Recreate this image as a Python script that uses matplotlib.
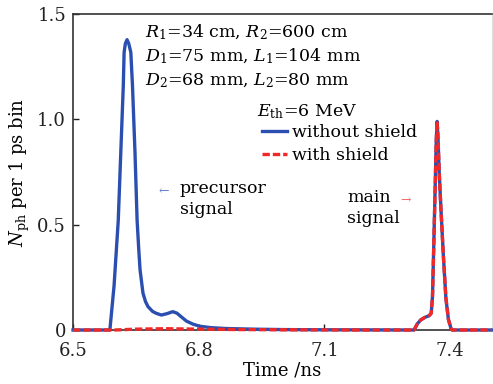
import matplotlib
matplotlib.use("Agg")
import matplotlib.pyplot as plt
import numpy as np

# --- data ---
t_without = [6.50, 6.588, 6.598, 6.608, 6.614, 6.620, 6.622, 6.625, 6.629, 6.633, 6.638,
             6.642, 6.648, 6.653, 6.657, 6.660, 6.667, 6.673, 6.679, 6.690, 6.699,
             6.711, 6.725, 6.738, 6.748, 6.760,
             6.771, 6.786, 6.802, 6.830, 6.866, 6.930, 7.000, 7.100, 7.200, 7.314,
             7.322, 7.330, 7.340, 7.350, 7.355, 7.358, 7.361, 7.364, 7.367, 7.369,
             7.371, 7.374, 7.378, 7.384, 7.390, 7.396, 7.402, 7.405, 7.45, 7.50]
n_without = [0.0, 0.0, 0.21, 0.52, 0.84, 1.158, 1.318, 1.36, 1.378, 1.36, 1.318,
             1.158, 0.84, 0.52, 0.38, 0.286, 0.175, 0.135, 0.111, 0.088, 0.079,
             0.071, 0.078, 0.087, 0.080, 0.060,
             0.042, 0.028, 0.018, 0.011, 0.007, 0.004, 0.002, 0.001, 0.0005, 0.0,
             0.030, 0.048, 0.060, 0.068, 0.080, 0.16, 0.40, 0.65, 0.90, 0.99,
             0.92, 0.75, 0.58, 0.35, 0.15, 0.05, 0.008, 0.0, 0.0, 0.0]

t_with = [6.50, 6.60, 6.65, 6.72, 6.80, 6.90, 7.00, 7.20, 7.314,
          7.322, 7.330, 7.340, 7.350, 7.355, 7.358, 7.361, 7.364, 7.367, 7.369,
          7.371, 7.374, 7.378, 7.384, 7.390, 7.396, 7.402, 7.405, 7.45, 7.50]
n_with = [0.0, 0.0, 0.004, 0.006, 0.004, 0.002, 0.001, 0.0, 0.0,
          0.030, 0.048, 0.060, 0.068, 0.080, 0.16, 0.40, 0.65, 0.90, 0.99,
          0.92, 0.75, 0.58, 0.35, 0.15, 0.05, 0.008, 0.0, 0.0, 0.0]

x_ticks = [6.5, 6.8, 7.1, 7.4]
x_ticklabels = ["6.5", "6.8", "7.1", "7.4"]
y_ticks = [0, 0.5, 1.0, 1.5]
y_ticklabels = ["0", "0.5", "1.0", "1.5"]

plt.rcParams['font.family'] = ['DejaVu Serif']
plt.rcParams['mathtext.fontset'] = 'dejavuserif'

fig = plt.figure(figsize=(4.93, 3.84), dpi=100)
ax = fig.add_axes([73/493, 1-330/384, 419/493, 316/384])

blue = '#2b4fb0'
red = '#f02828'
ax.plot(t_without, n_without, color=blue, lw=2.4, label='without shield', clip_on=False, zorder=3)
ax.plot(t_with, n_with, color=red, lw=2.4, ls=(0, (2.2, 0.9)), label='with shield', clip_on=False, zorder=4)

ax.set_xlim(6.5, 7.5)
ax.set_ylim(0, 1.5)
ax.set_xticks(x_ticks)
ax.set_xticklabels(x_ticklabels)
ax.set_yticks(y_ticks)
ax.set_yticklabels(y_ticklabels)
ax.tick_params(direction='in', length=4, labelsize=13, width=1, colors='#222222')
ax.tick_params(axis='x', pad=9)
ax.tick_params(axis='y', pad=5)
for s in ['left', 'bottom', 'top']:
    ax.spines[s].set_color('#333333')
    ax.spines[s].set_linewidth(1.2)
ax.spines['right'].set_color('#e0e0e0')

ax.set_xlabel('Time /ns', fontsize=13, labelpad=1)
ax.set_ylabel(r'$N_{\rm ph}$ per 1 ps bin', fontsize=13, labelpad=4)

fs = 12.5
ax.text(0.172, 0.943, r'$R_1$=34 cm, $R_2$=600 cm', transform=ax.transAxes, fontsize=fs, va='center', ha='left')
ax.text(0.172, 0.865, r'$D_1$=75 mm, $L_1$=104 mm', transform=ax.transAxes, fontsize=fs, va='center', ha='left')
ax.text(0.172, 0.789, r'$D_2$=68 mm, $L_2$=80 mm', transform=ax.transAxes, fontsize=fs, va='center', ha='left')

ax.text(0.438, 0.692, r'$E_{\rm th}$=6 MeV', transform=ax.transAxes, fontsize=fs, va='center', ha='left')
leg = ax.legend(loc='upper left', bbox_to_anchor=(0.447, 0.656), frameon=False,
                fontsize=fs, handlelength=1.45, handletextpad=0.3, labelspacing=0.34,
                borderpad=0.1, borderaxespad=0.0)

ax.text(0.203, 0.438, '←', transform=ax.transAxes, fontsize=9, color='#6a82d0', va='center', ha='left')
ax.text(0.255, 0.415, 'precursor\nsignal', transform=ax.transAxes, fontsize=fs, va='center', ha='left', linespacing=1.3)
ax.text(0.655, 0.386, 'main\nsignal', transform=ax.transAxes, fontsize=fs, va='center', ha='left', linespacing=1.3)
ax.text(0.78, 0.411, '→', transform=ax.transAxes, fontsize=9, color='#f07070', va='center', ha='left')

fig.savefig('out.png', dpi=100)
